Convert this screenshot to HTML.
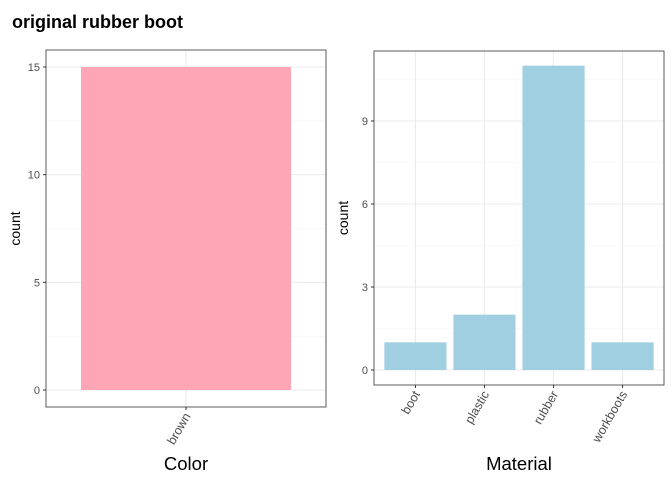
<!DOCTYPE html>
<html><head><meta charset="utf-8"><style>body{margin:0;background:#fff}svg{display:block;font-family:"Liberation Sans",sans-serif}</style></head>
<body>
<svg id="c" width="672" height="480">
<text x="12" y="28" font-size="18" font-weight="bold">original rubber boot</text>
</svg>
<script>
const colorCats=["brown"];
const colorCounts=[15];
const colorTicks=[0,5,10,15];
const matCats=["boot","plastic","rubber","workboots"];
const matCounts=[1,2,11,1];
const matTicks=[0,3,6,9];
const NS="http://www.w3.org/2000/svg";
const svg=document.getElementById("c");
function mk(t,a,p){const e=document.createElementNS(NS,t);for(const k in a)e.setAttribute(k,a[k]);(p||svg).appendChild(e);return e;}
function panel(o){
  const g=mk("g",{});
  
  
  const y=v=>o.y0-(v/o.ymaxRef)*(o.y0-o.yRefPx);
  const n=o.cats.length, step=(o.x1-o.x0)/(n+0.2);
  const x=i=>o.x0+step*(0.6+i);
  for(let i=0;i<o.ticks.length;i++){const v=o.ticks[i]+(o.ticks[1]-o.ticks[0])/2;if(y(v)>o.top){const l=mk("line",{x1:o.x0,x2:o.x1,y1:y(v),y2:y(v),stroke:"#f3f3f3","stroke-width":0.6},g);}}
  o.ticks.forEach(t=>{const l=mk("line",{x1:o.x0,x2:o.x1,y1:y(t),y2:y(t),stroke:"#ebebeb","stroke-width":1.1},g);
    const tl=mk("text",{x:o.x0-6,y:y(t)+4,"font-size":11,fill:"#4d4d4d","text-anchor":"end"},g);tl.textContent=t;
    mk("line",{x1:o.x0-3,x2:o.x0,y1:y(t),y2:y(t),stroke:"#333"},g);});
  o.cats.forEach((c,i)=>{mk("line",{x1:x(i),x2:x(i),y1:o.top,y2:o.bottom,stroke:"#ebebeb","stroke-width":1.1},g);});
  o.cats.forEach((c,i)=>{const w=step*0.9;const r=mk("rect",{x:x(i)-w/2,y:y(o.vals[i]),width:w,height:y(0)-y(o.vals[i]),fill:o.fill},g);
    
    mk("line",{x1:x(i),x2:x(i),y1:o.bottom,y2:o.bottom+3,stroke:"#333"},g);
    const t=mk("text",{transform:`translate(${x(i)+5},${o.bottom+9}) rotate(-60)`,"font-size":12.5,fill:"#4d4d4d","text-anchor":"end"},g);t.textContent=c;
    });
  const b=mk("rect",{x:o.x0,y:o.top,width:o.x1-o.x0,height:o.bottom-o.top,fill:"none",stroke:"#333","stroke-width":0.8},g);
  
  const yt=mk("text",{transform:`translate(${o.x0-26},${(o.top+o.bottom)/2}) rotate(-90)`,"font-size":14,"text-anchor":"middle"},g);yt.textContent="count";
  
  const xt=mk("text",{x:(o.x0+o.x1)/2,y:470,"font-size":18.5,"text-anchor":"middle"},g);xt.textContent=o.title;
  
}
panel({name:"color-panel",cats:colorCats,vals:colorCounts,ticks:colorTicks,x0:46,x1:326,top:50,bottom:407,y0:390,ymaxRef:15,yRefPx:67,fill:"#ffa6b6",title:"Color"});
panel({name:"material-panel",cats:matCats,vals:matCounts,ticks:matTicks,x0:374,x1:664,top:51,bottom:385,y0:370,ymaxRef:9,yRefPx:121,fill:"#9fcfe0",title:"Material"});
</script>
</body></html>
